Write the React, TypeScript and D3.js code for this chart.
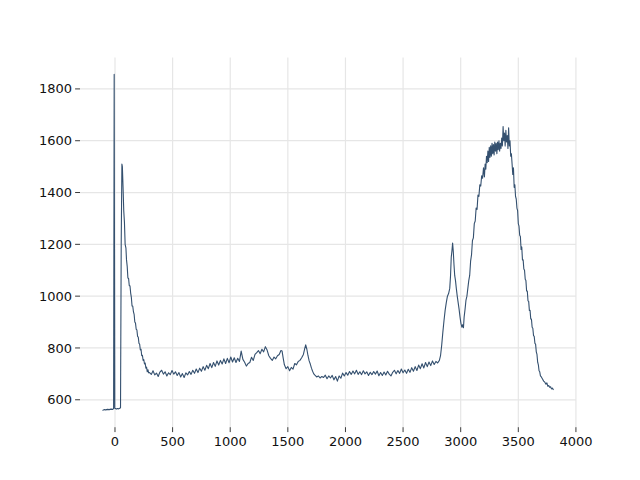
import React from "react";
import * as d3 from "d3";

const shift: number[] = [
  -108, -95, -80, -65, -50, -35, -20, -12, -7, -2,
  2, 12, 22, 32, 42, 48, 54, 60, 64,
  70, 76, 82, 88, 95, 100, 106, 112, 118, 124, 130, 136, 142, 148, 154, 160, 166, 172, 178, 184, 190, 196,
  202, 208, 214, 220, 226, 232, 238, 244, 250, 256, 262, 268, 274, 280, 286, 292,
  300, 315, 330, 345, 360, 375, 390, 405, 420, 435, 450, 465, 480, 495, 510, 525, 540, 555, 570, 585,
  600, 615, 630, 645, 660, 675, 690, 705, 720, 735, 750, 765, 780, 795, 810, 825, 840, 855, 870, 885,
  900, 915, 930, 945, 960, 975, 990, 1005, 1020, 1035, 1050, 1065, 1080, 1095, 1110, 1125, 1140, 1155, 1170, 1185,
  1200, 1215, 1230, 1245, 1260, 1275, 1290, 1305, 1320, 1335, 1350, 1365, 1380, 1395, 1410, 1425, 1440, 1450, 1460, 1470, 1485,
  1500, 1515, 1530, 1545, 1560, 1575, 1590, 1605, 1620, 1635, 1645, 1655, 1665, 1675, 1685, 1695, 1705, 1715, 1725, 1735, 1750, 1765, 1780, 1795,
  1810, 1825, 1840, 1855, 1870, 1885, 1900, 1915, 1930, 1945, 1960, 1975, 1990, 2005, 2020, 2035, 2050, 2065, 2080, 2095,
  2110, 2125, 2140, 2155, 2170, 2185, 2200, 2215, 2230, 2245, 2260, 2275, 2290, 2305, 2320, 2335, 2350, 2365, 2380, 2395,
  2410, 2425, 2440, 2455, 2470, 2485, 2500, 2515, 2530, 2545, 2560, 2575, 2590, 2605, 2620, 2635, 2650, 2665, 2680, 2695,
  2710, 2725, 2740, 2755, 2770, 2785, 2800, 2815, 2825, 2835, 2845, 2855, 2865, 2875, 2885, 2895, 2905, 2912, 2918, 2924,
  2930, 2936, 2942, 2948, 2955, 2962, 2970, 2978, 2986, 2994, 3002, 3010, 3018, 3024, 3030, 3038, 3046, 3054, 3062, 3070,
  3078, 3086, 3094, 3102, 3110, 3118, 3126, 3134, 3142, 3150, 3158, 3166, 3174, 3182, 3190, 3198, 3206, 3212, 3218, 3224,
  3230, 3236, 3242, 3248, 3254, 3260, 3266, 3272, 3278, 3284, 3290, 3296, 3302, 3308, 3314, 3320, 3326, 3332, 3338, 3344,
  3350, 3356, 3362, 3368, 3374, 3380, 3386, 3392, 3398, 3404, 3410, 3416, 3422, 3428, 3434, 3440, 3446, 3452, 3458, 3464,
  3470, 3476, 3482, 3488, 3494, 3500, 3506, 3512, 3518, 3524, 3530, 3536, 3542, 3548, 3554, 3560, 3566, 3572, 3578, 3584,
  3590, 3596, 3602, 3608, 3614, 3620, 3626, 3632, 3638, 3644, 3650, 3656, 3662, 3668, 3674, 3680, 3686, 3692, 3700, 3710,
  3720, 3730, 3740, 3748, 3756, 3764, 3772, 3780, 3788, 3796, 3805,
];

const intensity: number[] = [
  559, 562, 561, 563, 562, 564, 563, 566, 1856, 568,
  566, 564, 566, 565, 567, 570, 1200, 1510, 1500,
  1420, 1330, 1285, 1200, 1185, 1140, 1115, 1070, 1068, 1040, 1040, 1012, 995, 962, 962, 940, 930, 900, 896, 872, 870, 845,
  842, 818, 815, 792, 795, 770, 772, 752, 755, 738, 742, 722, 726, 708, 716, 704,
  705, 698, 712, 696, 703, 690, 707, 714, 699, 708, 692, 704, 697, 713, 699, 708, 694, 705, 688, 701,
  686, 704, 696, 709, 698, 714, 702, 719, 705, 722, 710, 728, 714, 733, 720, 740, 724, 744, 729, 750,
  734, 752, 738, 758, 740, 760, 743, 765, 746, 762, 744, 760, 748, 788, 756, 745, 730, 740, 744, 764,
  752, 775, 782, 790, 778, 795, 785, 805, 792, 770, 760, 752, 765, 758, 770, 775, 790, 788, 760, 735, 720,
  728, 712, 725, 718, 740, 735, 748, 752, 762, 775, 795, 812, 795, 770, 750, 738, 722, 710, 700, 695, 688, 692, 684, 690,
  686, 695, 681, 692, 684, 694, 677, 690, 672, 692, 683, 703, 692, 705, 695, 709, 698, 711, 700, 714,
  698, 708, 697, 712, 700, 708, 694, 706, 697, 709, 699, 711, 693, 705, 694, 707, 696, 710, 699, 692,
  706, 714, 700, 713, 702, 719, 704, 715, 702, 718, 706, 724, 710, 728, 713, 734, 720, 739, 723, 744,
  728, 746, 732, 750, 736, 748, 742, 752, 770, 810, 860, 905, 945, 975, 1000, 1010, 1030, 1080, 1150, 1175,
  1205, 1170, 1120, 1080, 1060, 1030, 1000, 975, 950, 920, 895, 880, 890, 878, 920, 950, 985, 1000, 1030, 1060,
  1080, 1135, 1160, 1215, 1225, 1280, 1290, 1340, 1335, 1390, 1385, 1430, 1425, 1465, 1455, 1495, 1460, 1510, 1490, 1540,
  1515, 1560, 1520, 1575, 1535, 1580, 1540, 1590, 1550, 1585, 1545, 1595, 1560, 1590, 1550, 1595, 1565, 1600, 1560, 1590,
  1570, 1610, 1580, 1655, 1600, 1630, 1580, 1640, 1595, 1620, 1570, 1650, 1580, 1600, 1540, 1550, 1510, 1470, 1495, 1420,
  1430, 1385, 1375, 1340, 1330, 1280, 1270, 1235, 1230, 1180, 1190, 1140, 1140, 1105, 1100, 1065, 1060, 1020, 1020, 982,
  980, 945, 945, 912, 912, 880, 876, 848, 845, 818, 815, 785, 775, 745, 735, 712, 708, 692, 688, 680,
  672, 668, 660, 665, 652, 655, 648, 650, 642, 645, 638,
];

const xTicks: number[] = [0, 500, 1000, 1500, 2000, 2500, 3000, 3500, 4000];
const yTicks: number[] = [600, 800, 1000, 1200, 1400, 1600, 1800];

const W = 640;
const H = 480;
const L = 80;
const R = 576;
const T = 57.6;
const B = 427.2;

export default function App() {
  const [xMin, xMax] = d3.extent(shift) as [number, number];
  const [yMin, yMax] = d3.extent(intensity) as [number, number];
  const xPad = (xMax - xMin) * 0.05;
  const yPad = (yMax - yMin) * 0.05;
  const x = d3.scaleLinear().domain([xMin - xPad, xMax + xPad]).range([L, R]);
  const y = d3.scaleLinear().domain([yMin - yPad, yMax + yPad]).range([B, T]);
  const pts: [number, number][] = shift.map((s, i) => [s, intensity[i]]);
  const line = d3
    .line<[number, number]>()
    .x((d) => x(d[0]))
    .y((d) => y(d[1]));
  const font = "'DejaVu Sans', sans-serif";
  return (
    <svg
      width={W}
      height={H}
      style={{ position: "absolute", left: 0, top: 0, background: "#fff" }}
    >
      <rect x={0} y={0} width={W} height={H} fill="#fff" />
      {xTicks.map((t) => (
        <line key={"gx" + t} x1={x(t)} x2={x(t)} y1={T} y2={B} stroke="#e6e6e6" strokeWidth={1.2} />
      ))}
      {yTicks.map((t) => (
        <line key={"gy" + t} x1={L} x2={R} y1={y(t)} y2={y(t)} stroke="#e6e6e6" strokeWidth={1.2} />
      ))}
      <path d={line(pts) || ""} fill="none" stroke="#34506f" strokeWidth={1.1} strokeLinejoin="round" />
      {xTicks.map((t) => (
        <g key={"tx" + t}>
          <line x1={x(t)} x2={x(t)} y1={B} y2={B + 4.9} stroke="#222" strokeWidth={0.9} />
          <text x={x(t)} y={B + 19} textAnchor="middle" fontFamily={font} fontSize={13} fill="#111">
            {t}
          </text>
        </g>
      ))}
      {yTicks.map((t) => (
        <g key={"ty" + t}>
          <line x1={L - 4.9} x2={L} y1={y(t)} y2={y(t)} stroke="#222" strokeWidth={0.9} />
          <text x={L - 8} y={y(t)} dy="0.35em" textAnchor="end" fontFamily={font} fontSize={13} fill="#111">
            {t}
          </text>
        </g>
      ))}
    </svg>
  );
}
